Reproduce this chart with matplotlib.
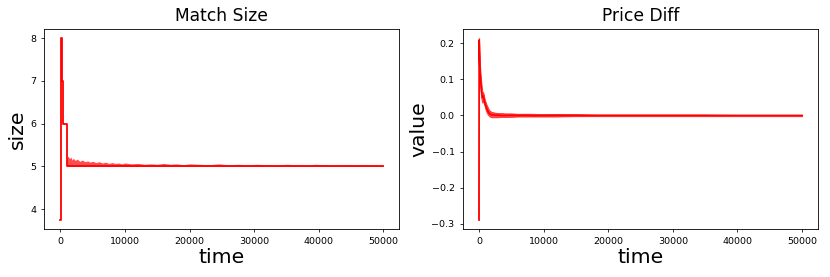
import matplotlib
matplotlib.use("Agg")
import matplotlib.pyplot as plt

# match size: median step line + upper band
size_t = [0, 60, 300, 420, 1000, 50000]
size_val = [3.75, 8, 7, 6, 5, 5]

band_t = [1000, 1200, 1400, 1600, 1800, 2000, 2300, 2600, 3000, 3400, 3800, 4200, 4600, 5000,
          5500, 6000, 6500, 7000, 7500, 8000, 8500, 9000, 9500, 10000,
          11000, 12000, 13000, 14000, 15000, 16000, 17000, 18000, 19000, 20000,
          21500, 23000, 24500, 26000, 27500, 29000, 30500, 32000, 33500, 35000,
          36500, 38000, 39500, 41000, 42500, 44000, 45500, 47000, 48500, 50000]
band_hi = [5.20, 5.24, 5.18, 5.22, 5.15, 5.19, 5.14, 5.17, 5.12, 5.15,
           5.11, 5.13, 5.10, 5.12, 5.09, 5.11, 5.08, 5.10, 5.07, 5.09,
           5.07, 5.08, 5.06, 5.08, 5.06, 5.07, 5.05, 5.06, 5.05, 5.07,
           5.05, 5.06, 5.04, 5.06, 5.05, 5.04, 5.06, 5.04, 5.05, 5.04,
           5.05, 5.04, 5.03, 5.05, 5.04, 5.03, 5.05, 5.04, 5.03, 5.04,
           5.03, 5.04, 5.03, 5.03]

# price diff: mean line + min/max band
price_t = [0, 40, 80, 150, 250, 350, 450, 550, 650, 750,
           850, 1000, 1200, 1400, 1600, 1800, 2000, 2500, 3000, 3500,
           4000, 5000, 6000, 7000, 8000, 10000, 12000, 15000, 18000, 22000,
           26000, 30000, 35000, 40000, 45000, 50000]
price_mid = [-0.29, 0.21, 0.17, 0.13, 0.10, 0.08, 0.06, 0.05, 0.055, 0.05,
             0.04, 0.03, 0.02, 0.012, 0.006, 0.003, 0.002, 0.001, 0.001, 0.0,
             0.0, 0.0005, 0.0, 0.0005, 0.0, 0.0, 0.0005, 0.0, 0.0, 0.0,
             0.0, 0.0, 0.0, 0.0, 0.0, 0.0]
price_lo = [-0.29, 0.20, 0.14, 0.10, 0.07, 0.05, 0.04, 0.035, 0.04, 0.035,
            0.028, 0.018, 0.008, 0.002, -0.002, -0.004, -0.005, -0.005, -0.005, -0.004,
            -0.004, -0.004, -0.003, -0.003, -0.003, -0.003, -0.003, -0.002, -0.002, -0.002,
            -0.002, -0.002, -0.002, -0.002, -0.002, -0.002]
price_hi = [-0.29, 0.215, 0.19, 0.15, 0.12, 0.10, 0.08, 0.065, 0.065, 0.06,
            0.05, 0.04, 0.03, 0.022, 0.015, 0.012, 0.01, 0.008, 0.007, 0.007,
            0.006, 0.006, 0.005, 0.005, 0.005, 0.004, 0.004, 0.004, 0.003, 0.003,
            0.003, 0.003, 0.003, 0.002, 0.002, 0.002]

plt.rcParams['xtick.labelsize'] = 6.8
plt.rcParams['ytick.labelsize'] = 6.8
plt.rcParams['xtick.major.size'] = 2.4
plt.rcParams['ytick.major.size'] = 2.4
plt.rcParams['xtick.major.width'] = 0.55
plt.rcParams['ytick.major.width'] = 0.55
plt.rcParams['axes.linewidth'] = 0.6

fig = plt.figure(figsize=(8.3, 2.77), dpi=100)
ax1 = fig.add_axes([0.0534, 0.1733, 0.4277, 0.722])
ax2 = fig.add_axes([0.5575, 0.1733, 0.4284, 0.722])

ax1.fill_between(band_t, size_val[-1], band_hi, color='r', alpha=0.7, linewidth=0)
ax1.plot(size_t, size_val, color='r', linewidth=1.3, drawstyle='steps-post')
ax1.set_title('Match Size', fontsize=12.3)
ax1.set_xlabel('time', fontsize=14.7, labelpad=1)
ax1.set_ylabel('size', fontsize=14.7, labelpad=2)
ax1.set_xticks([0, 10000, 20000, 30000, 40000, 50000])

ax2.fill_between(price_t, price_lo, price_hi, color='r', alpha=0.7, linewidth=0.6)
ax2.plot(price_t, price_mid, color='r', linewidth=1.2)
ax2.set_title('Price Diff', fontsize=12.3)
ax2.set_xlabel('time', fontsize=14.7, labelpad=1)
ax2.set_ylabel('value', fontsize=14.7, labelpad=2)
ax2.set_xticks([0, 10000, 20000, 30000, 40000, 50000])

fig.savefig('out.png', dpi=100)
